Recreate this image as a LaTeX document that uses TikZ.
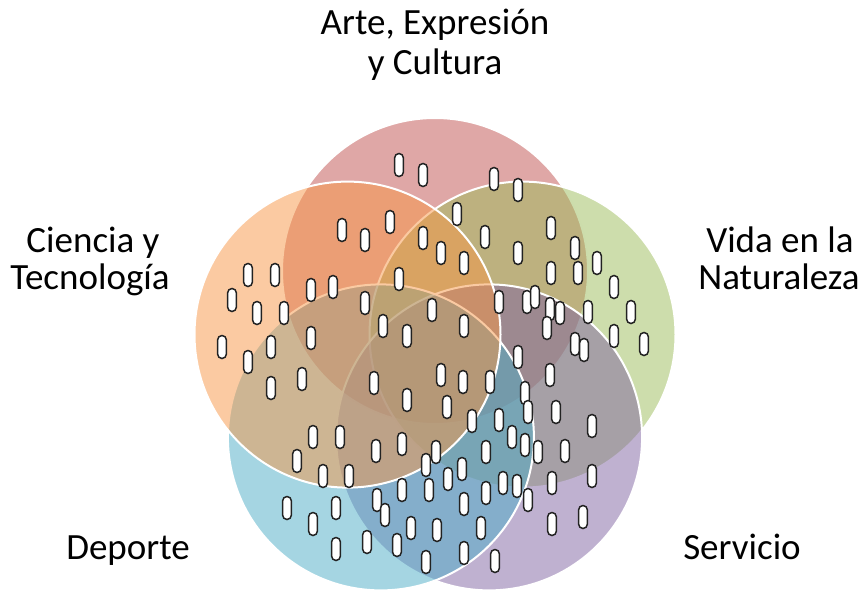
\documentclass[tikz,border=0pt]{standalone}
\usepackage{fontspec}
\setmainfont{Carlito}
\definecolor{vred}{HTML}{C0504D}
\definecolor{vorange}{HTML}{F79646}
\definecolor{vgreen}{HTML}{9BBB59}
\definecolor{vblue}{HTML}{4BACC6}
\definecolor{vpurple}{HTML}{8064A2}
\definecolor{pillline}{HTML}{222222}
\tikzset{
  venn/.style={circle, minimum size=306pt, inner sep=0pt, outer sep=0pt, draw=white, line width=2pt, fill opacity=0.5},
  pill/.style={rectangle, rounded corners=4.4pt, minimum width=8.8pt, minimum height=23pt, inner sep=0pt, draw=pillline, line width=1.5pt, fill=white},
  lbl/.style={anchor=base, inner sep=0pt, font=\fontsize{37}{40}\selectfont, text=black}
}
\begin{document}
\begin{tikzpicture}[x=1pt,y=-1pt]
\useasboundingbox (0,0) rectangle (868,594);
% circles (drawing order matters)
\node[venn, fill=vred]    (arte)     at (435,271)   {};
\node[venn, fill=vgreen]  (vida)     at (522.5,334.6) {};
\node[venn, fill=vpurple] (servicio) at (489.1,437.4) {};
\node[venn, fill=vblue]   (deporte)  at (380.9,437.4) {};
\node[venn, fill=vorange] (ciencia)  at (347.5,334.6) {};
% pills
\foreach \px/\py [count=\i] in {
399/165, 423/175, 494/179, 518/190,
342/230, 365/240, 390/222, 423/238, 457/214, 485/237, 518/253, 551/228, 575/248, 597/263, 551/273, 578/273, 614/287, 631/312, 644/344, 614/336, 588/312,
441/253, 464/263, 399/279,
248/275, 275/275, 232/300, 257/313, 284/313, 311/290, 333/287, 365/303, 383/326, 407/336, 432/310, 464/326, 499/302, 527/302, 535/297, 550/309, 560/313, 547/328, 575/344, 584/350, 518/357,
311/338, 271/347, 222/347, 248/362, 271/388, 302/379, 374/383, 407/400,
441/375, 463/382, 490/382, 447/407, 472/421, 499/420, 550/375, 525/393, 528/412, 556/412, 592/426, 512/437, 525/445, 538/452, 565/451, 592/476, 552/483,
313/437, 340/437, 297/461, 323/476, 349/476, 376/451, 402/444, 426/465, 436/452, 402/490, 429/490, 377/500, 385/515, 287/508, 313/524, 336/508, 336/549, 367/542, 397/545, 411/528, 426/562, 437/530,
486/452, 462/469, 448/479, 486/493, 503/483, 517/486, 528/500, 464/504, 481/528, 552/524, 583/517, 464/553, 495/561}
  \node[pill] (p\i) at (\px,\py) {};
% labels
\node[lbl] (t1a) at (435,35)  {Arte, Expresión};
\node[lbl] (t1b) at (435,75)  {y Cultura};
\node[lbl] (t2a) at (93,252)  {Ciencia y};
\node[lbl] (t2b) at (90,289)  {Tecnología};
\node[lbl] (t3a) at (780,252) {Vida en la};
\node[lbl] (t3b) at (779,289) {Naturaleza};
\node[lbl] (t4)  at (128,559) {Deporte};
\node[lbl] (t5)  at (742,559) {Servicio};
\end{tikzpicture}
\end{document}
